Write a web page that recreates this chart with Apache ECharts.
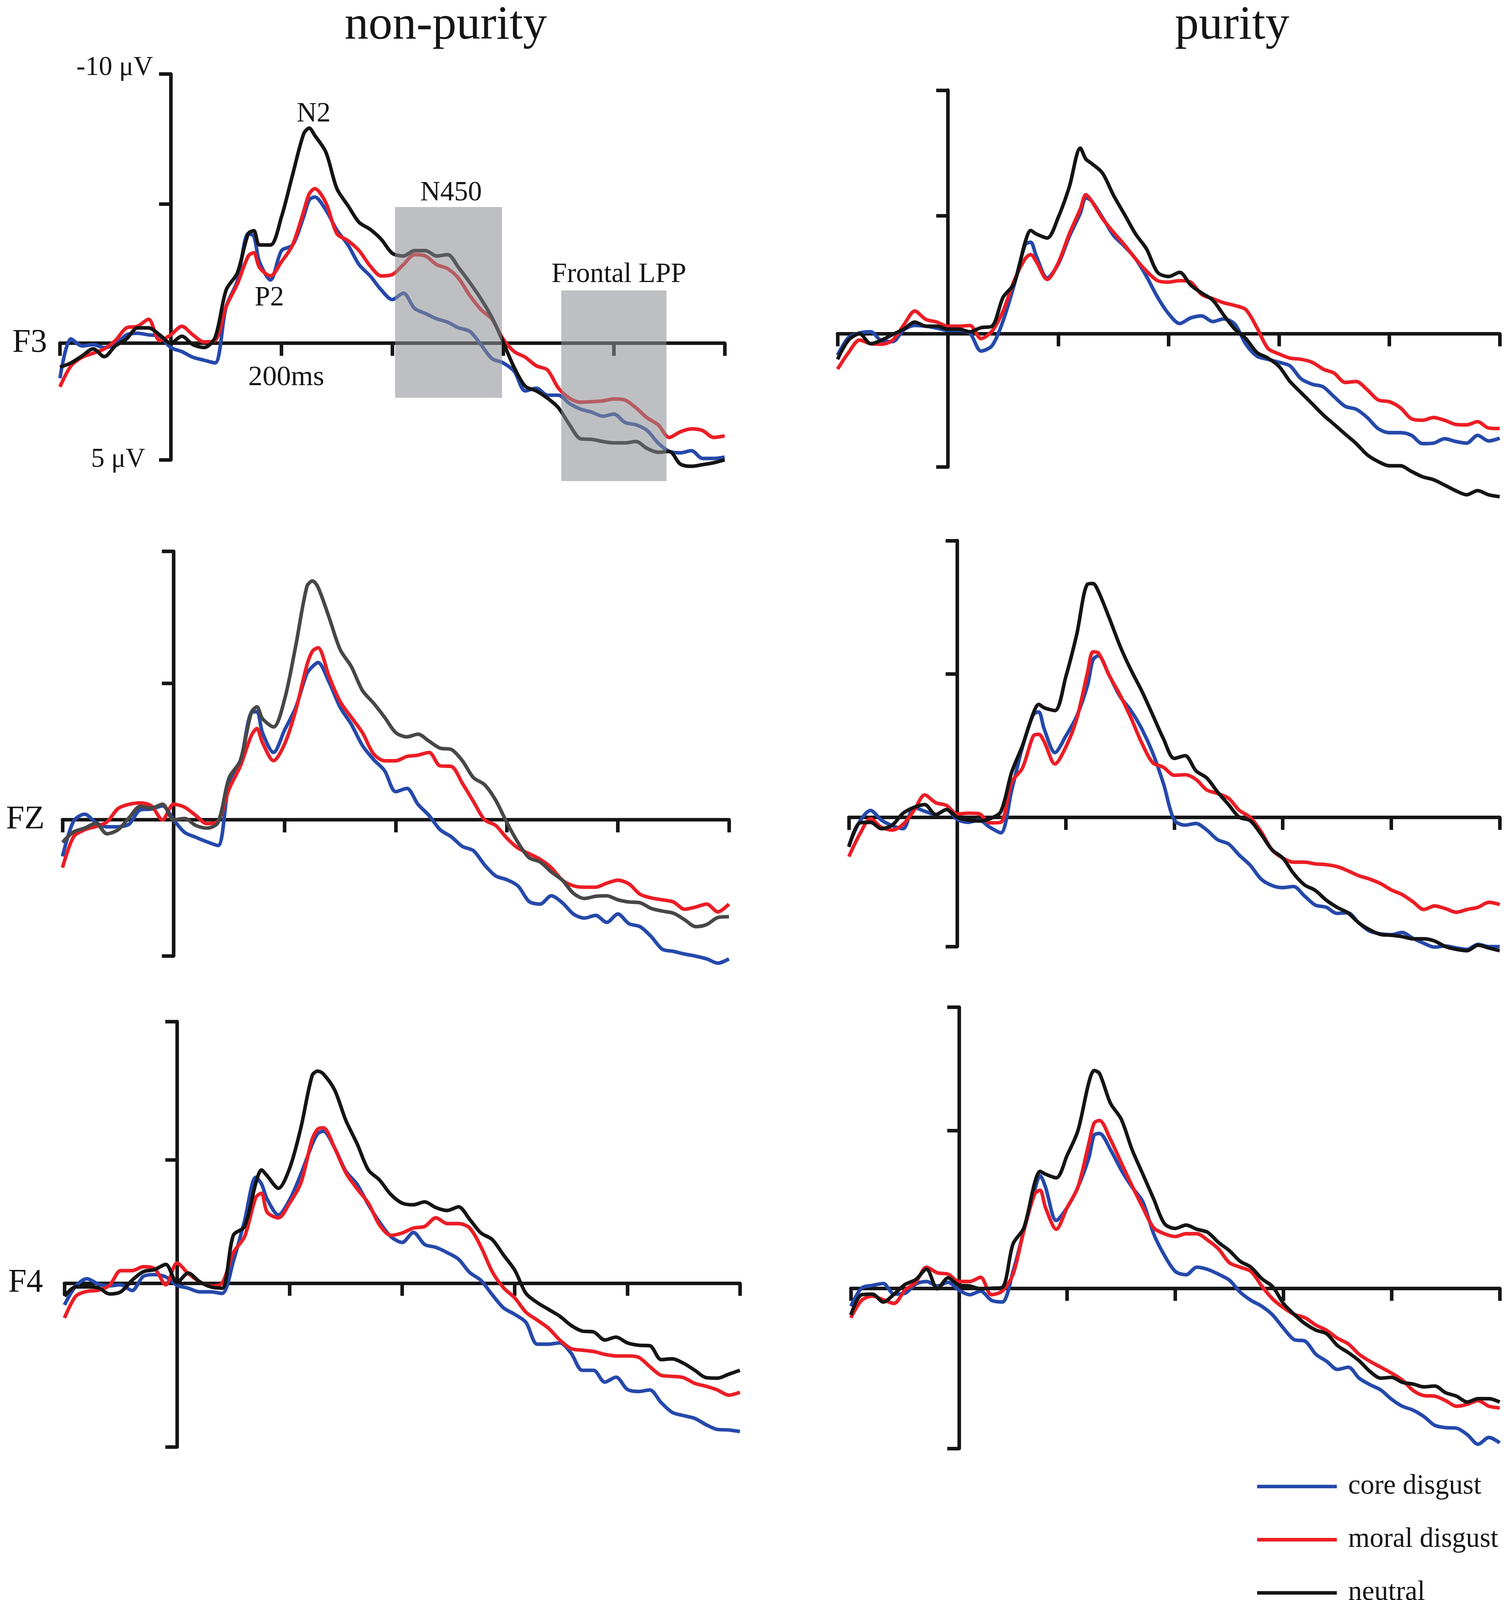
<!DOCTYPE html>
<html lang="en">
<head>
    <meta charset="UTF-8">
    <title>ERP waveforms: non-purity vs purity</title>
    <script src="https://cdn.jsdelivr.net/npm/echarts@6/dist/echarts.min.js"></script>
    <style>
        html, body { margin: 0; padding: 0; background: #fff; overflow: hidden; }
        #erp { width: 100vw; height: 100vh; }
    </style>
</head>
<body>
<div id="erp"></div>

<script>
// time points in ms (extra samples at 150 and 250 ms catch the peaks)
const times = [-200, -180, -160, -140, -120, -100, -80, -60, -40, -20,
    0, 20, 40, 60, 80, 100, 120, 140, 150, 160, 180,
    200, 220, 240, 250, 260, 280, 300, 320, 340, 360, 380,
    400, 420, 440, 460, 480, 500, 520, 540, 560, 580,
    600, 620, 640, 660, 680, 700, 720, 740, 760, 780,
    800, 820, 840, 860, 880, 900, 920, 940, 960, 980, 1000];

const conditions = ['core disgust', 'moral disgust', 'neutral'];

// F3, non-purity
const f3NonCore = [1.3, -0.16, 0.1, 0.05, 0.16, 0.05, -0.31, -0.37, -0.31, -0.26,
    0.16, 0.31, 0.52, 0.63, 0.73, -1.36, -2.3, -4.07, -3.97, -3.03, -2.35,
    -3.44, -3.65, -4.7, -5.32, -5.43, -4.95, -4.2, -3.65, -2.92, -2.5, -1.98,
    -1.62, -1.86, -1.3, -1.1, -0.91, -0.78, -0.57, -0.44, 0.05, 0.57,
    0.73, 1.04, 1.77, 1.67, 1.93, 1.93, 2.24, 2.45, 2.56, 2.71,
    2.63, 2.94, 3.03, 3.24, 3.71, 4.02, 4.07, 3.99, 4.28, 4.28, 4.23];
const f3NonMoral = [1.62, 0.84, 0.52, 0.37, 0.21, -0.1, -0.57, -0.63, -0.89, -0.1,
    -0.31, -0.63, -0.31, -0.05, -0.1, -1.36, -2.19, -3.24, -3.36, -2.82, -2.5,
    -3.03, -3.65, -4.9, -5.55, -5.74, -5.22, -4.07, -3.81, -3.44, -2.87, -2.5,
    -2.55, -2.92, -3.29, -3.24, -2.92, -2.77, -2.4, -1.77, -1.25, -0.89,
    -0.16, 0.31, 0.52, 0.84, 0.99, 1.67, 2.04, 2.19, 2.17, 2.14,
    2.07, 2.11, 2.4, 2.77, 3.03, 3.5, 3.29, 3.18, 3.24, 3.5, 3.44];
const f3NonNeutral = [0.89, 0.73, 0.47, 0.21, 0.5, 0.1, -0.16, -0.57, -0.57, -0.31,
    0, -0.26, 0.05, 0.16, -0.21, -1.98, -2.6, -4.07, -4.18, -3.65, -3.65,
    -4.7, -6.26, -7.78, -7.99, -7.72, -7.1, -5.74, -5.11, -4.49, -4.23, -3.86,
    -3.34, -3.24, -3.44, -3.44, -3.24, -3.29, -2.8, -2.25, -1.65, -0.95,
    -0.05, 0.9, 1.6, 1.77, 2.04, 2.4, 3.03, 3.55, 3.57, 3.65,
    3.7, 3.7, 3.65, 3.91, 4.05, 4.02, 4.49, 4.57, 4.51, 4.44, 4.33];

// F3, purity
const f3PurCore = [0.88, 0.15, -0.03, -0.08, 0.29, 0.32, -0.16, -0.34, -0.31, -0.23,
    -0.14, -0.14, -0.02, 0.71, 0.49, -0.53, -2.0, -3.65, -3.76, -3.2, -2.29,
    -2.86, -3.99, -4.95, -5.58, -5.46, -4.78, -4.04, -3.59, -3.08, -2.35, -1.5,
    -0.82, -0.42, -0.65, -0.73, -0.5, -0.61, -0.39, 0.43, 0.92, 1.05,
    1.17, 1.32, 1.85, 2.07, 2.18, 2.59, 2.98, 3.1, 3.44, 3.9,
    4.06, 4.06, 4.17, 4.51, 4.49, 4.31, 4.42, 4.49, 4.17, 4.4, 4.29];
const f3PurMoral = [1.45, 0.77, 0.26, 0.41, 0.43, 0.26, -0.36, -0.93, -0.59, -0.48,
    -0.31, -0.31, -0.34, 0.2, -0.11, -0.93, -2.18, -3.08, -3.25, -2.97, -2.23,
    -2.91, -4.1, -5.12, -5.71, -5.46, -4.73, -4.17, -3.65, -3.08, -2.57, -2.18,
    -2.12, -2.18, -2.12, -1.61, -1.44, -1.27, -1.16, -0.99, -0.25, 0.6,
    0.83, 1.0, 1.05, 1.17, 1.45, 1.62, 2.0, 1.96, 2.3, 2.72,
    2.79, 3.04, 3.49, 3.55, 3.44, 3.55, 3.72, 3.74, 3.61, 3.87, 3.89];
const f3PurNeutral = [1.05, 0.26, 0, 0.41, 0.26, 0.03, -0.19, -0.48, -0.31, -0.31,
    -0.19, -0.19, -0.08, -0.25, -0.31, -1.5, -2.06, -3.76, -4.24, -4.1, -3.93,
    -4.78, -6.03, -7.62, -7.17, -7.0, -6.6, -5.69, -4.9, -4.1, -3.48, -2.52,
    -2.35, -2.52, -2.0, -1.67, -1.38, -0.76, -0.19, 0.2, 0.77, 1.0,
    1.34, 1.96, 2.42, 2.87, 3.33, 3.72, 4.12, 4.51, 4.97, 5.25,
    5.42, 5.42, 5.65, 5.87, 5.99, 6.21, 6.44, 6.61, 6.44, 6.61, 6.69];

// FZ, non-purity
const fzNonCore = [1.36, 0.05, -0.21, 0.1, 0.26, 0.26, 0.16, -0.37, -0.4, -0.52,
    0, 0.47, 0.65, 0.82, 0.96, -1.36, -2.15, -4.0, -4.03, -3.25, -2.51,
    -3.35, -4.19, -5.45, -5.71, -5.86, -5.13, -4.19, -3.56, -2.77, -2.25, -1.83,
    -1.05, -1.17, -0.58, -0.16, 0.37, 0.63, 0.99, 1.15, 1.68, 2.09,
    2.23, 2.46, 3.04, 3.14, 2.83, 3.09, 3.51, 3.66, 3.56, 3.82,
    3.51, 3.87, 3.98, 4.35, 4.82, 4.9, 5.0, 5.08, 5.18, 5.34, 5.18];
const fzNonMoral = [1.78, 0.63, 0.37, 0.25, 0.08, -0.42, -0.58, -0.63, -0.52, 0,
    -0.58, -0.47, -0.16, 0.14, 0.05, -1.15, -1.99, -3.14, -3.4, -2.88, -2.2,
    -2.83, -4.08, -5.76, -6.28, -6.41, -5.34, -4.4, -3.82, -3.25, -2.46, -2.2,
    -2.2, -2.36, -2.41, -2.51, -2.01, -1.99, -1.36, -0.68, 0, 0.21,
    0.68, 1.05, 1.26, 1.47, 1.78, 2.25, 2.46, 2.51, 2.51, 2.36,
    2.25, 2.39, 2.77, 2.91, 2.98, 3.06, 3.33, 3.25, 3.14, 3.43, 3.14];
const fzNonNeutral = [0.84, 0.45, 0.31, 0.13, 0.52, 0.37, -0.08, -0.5, -0.44, -0.58,
    0, -0.05, 0.21, 0.31, 0.1, -1.57, -2.2, -4.0, -4.21, -3.77, -3.46,
    -4.5, -6.49, -8.69, -8.9, -8.67, -7.54, -6.34, -5.71, -4.82, -4.35, -3.82,
    -3.25, -3.09, -3.19, -2.93, -2.67, -2.62, -2.2, -1.57, -1.31, -0.73,
    0.1, 0.84, 1.41, 1.57, 1.94, 2.25, 2.74, 2.93, 2.85, 2.83,
    2.98, 3.06, 3.09, 3.3, 3.4, 3.48, 3.72, 3.98, 3.9, 3.64, 3.61];

// FZ, purity
const fzPurCore = [1.02, 0.15, -0.25, 0.1, 0.3, 0.41, -0.36, -0.22, -0.1, -0.28,
    0.08, 0.18, 0.1, 0.36, 0.56, -0.96, -2.54, -3.71, -3.81, -3.2, -2.34,
    -2.94, -3.65, -4.77, -5.69, -5.84, -5.13, -4.37, -3.86, -3.2, -2.34, -1.22,
    0.1, 0.28, 0.22, 0.46, 0.81, 0.96, 1.37, 1.73, 2.23, 2.46,
    2.54, 2.5, 2.84, 3.17, 3.25, 3.47, 3.45, 3.81, 4.11, 4.21,
    4.24, 4.16, 4.37, 4.55, 4.69, 4.65, 4.72, 4.77, 4.59, 4.67, 4.67];
const fzPurMoral = [1.42, 0.61, 0.05, 0.36, 0.46, 0.25, -0.25, -0.81, -0.53, -0.43,
    -0.12, -0.15, -0.13, 0.2, 0.18, -1.27, -1.78, -2.94, -3.0, -2.74, -1.93,
    -2.54, -3.55, -5.23, -5.98, -5.94, -5.13, -4.42, -3.6, -2.69, -1.98, -1.81,
    -1.52, -1.54, -1.37, -0.99, -0.86, -0.69, -0.25, 0, 0.51, 1.17,
    1.47, 1.62, 1.62, 1.68, 1.71, 1.78, 1.93, 2.11, 2.23, 2.39,
    2.62, 2.79, 3.05, 3.33, 3.2, 3.3, 3.43, 3.33, 3.25, 3.07, 3.15];
const fzPurNeutral = [1.07, 0.2, 0.18, 0.41, 0.28, -0.15, -0.36, -0.46, -0.1, -0.28,
    0, 0.1, 0.13, 0.05, -0.2, -1.62, -2.59, -3.76, -4.08, -3.96, -3.86,
    -5.08, -6.6, -8.43, -8.45, -8.17, -7.21, -6.19, -5.33, -4.57, -3.71, -2.84,
    -2.13, -2.23, -1.68, -1.42, -0.91, -0.46, 0, 0.12, 0.61, 1.17,
    1.47, 2.03, 2.44, 2.64, 2.99, 3.25, 3.45, 3.81, 4.06, 4.23,
    4.26, 4.31, 4.39, 4.39, 4.47, 4.67, 4.77, 4.82, 4.62, 4.72, 4.82];

// F4, non-purity
const f4NonCore = [0.83, 0.11, -0.17, 0.03, 0.1, 0.06, 0.28, -0.26, -0.33, -0.24,
    0.08, 0.19, 0.33, 0.33, 0.39, -0.83, -2.39, -4.05, -3.8, -3.22, -2.61,
    -3.19, -4.17, -5.3, -5.72, -5.81, -5.17, -4.28, -3.78, -3.0, -2.33, -1.78,
    -1.56, -1.94, -1.48, -1.37, -1.17, -0.92, -0.41, -0.11, 0.44, 0.94,
    1.19, 1.5, 2.33, 2.33, 2.28, 2.67, 3.33, 3.33, 3.78, 3.59,
    4.06, 4.14, 4.08, 4.56, 4.94, 5.06, 5.17, 5.41, 5.59, 5.61, 5.67];
const f4NonMoral = [1.33, 0.5, 0.31, 0.27, 0.08, -0.48, -0.48, -0.63, -0.56, 0.06,
    -0.77, -0.37, -0.06, 0.11, 0, -1.17, -1.78, -3.28, -3.44, -2.72, -2.5,
    -3.06, -3.83, -5.5, -5.89, -5.94, -5.17, -4.22, -3.61, -3.06, -2.22, -1.83,
    -1.92, -2.11, -2.17, -2.5, -2.28, -2.28, -2.11, -1.39, -0.44, 0.17,
    0.56, 1.11, 1.41, 1.72, 2.17, 2.5, 2.56, 2.61, 2.72, 2.78,
    2.78, 2.83, 3.19, 3.52, 3.56, 3.61, 3.83, 3.94, 4.08, 4.28, 4.17];
const f4NonNeutral = [0.5, 0.14, 0.14, 0.17, 0.41, 0.33, -0.11, -0.44, -0.52, -0.72,
    -0.03, -0.39, -0.06, 0.14, 0.19, -1.83, -2.17, -3.83, -4.33, -4.11, -3.63,
    -4.39, -5.94, -7.94, -8.11, -8.0, -7.39, -6.22, -5.33, -4.33, -3.94, -3.39,
    -3.06, -3.0, -3.11, -2.89, -2.78, -2.92, -2.44, -1.92, -1.67, -1.08,
    -0.5, 0.39, 0.74, 1.0, 1.26, 1.61, 1.83, 1.86, 2.17, 2.06,
    2.28, 2.37, 2.39, 2.92, 2.89, 3.06, 3.33, 3.61, 3.63, 3.48, 3.33];

// F4, purity
const f4PurCore = [0.64, -0.01, -0.1, -0.17, 0.21, 0.18, -0.15, -0.24, -0.08, -0.21,
    0.07, 0.23, 0.1, 0.43, 0.49, -0.6, -2.05, -3.49, -4.01, -3.6, -2.41,
    -2.87, -3.6, -4.63, -5.45, -5.51, -4.94, -4.21, -3.6, -3.08, -1.94, -1.17,
    -0.6, -0.48, -0.75, -0.67, -0.5, -0.29, 0.14, 0.43, 0.64, 0.95,
    1.42, 1.83, 1.88, 2.35, 2.6, 2.89, 2.81, 3.2, 3.43, 3.62,
    3.95, 4.2, 4.34, 4.57, 4.88, 4.96, 4.98, 5.21, 5.55, 5.31, 5.5];
const f4PurMoral = [1.05, 0.43, 0.28, 0.41, 0.54, 0.07, -0.21, -0.75, -0.55, -0.5,
    -0.24, -0.24, -0.39, 0.23, 0.1, -0.5, -2.05, -3.35, -3.49, -2.87, -2.1,
    -2.87, -3.6, -5.14, -5.88, -5.97, -5.3, -4.47, -3.65, -2.87, -2.15, -1.94,
    -1.84, -1.94, -1.94, -1.71, -1.4, -0.91, -0.75, -0.6, -0.08, 0.38,
    0.69, 0.93, 1.05, 1.31, 1.5, 1.78, 1.98, 2.35, 2.6, 2.81,
    3.02, 3.27, 3.64, 3.82, 3.84, 4.0, 4.2, 4.13, 4.0, 4.2, 4.26];
const f4PurNeutral = [0.95, 0.23, 0.21, 0.49, 0.21, -0.13, -0.31, -0.68, 0.02, -0.37,
    -0.11, -0.08, 0.02, 0, -0.03, -1.58, -2.15, -3.75, -4.16, -4.06, -3.93,
    -4.73, -5.61, -7.31, -7.75, -7.64, -6.59, -6.02, -4.94, -4.06, -3.18, -2.3,
    -2.13, -2.25, -2.1, -1.99, -1.63, -1.34, -0.96, -0.75, -0.34, -0.06,
    0.54, 0.93, 1.26, 1.49, 1.62, 2.04, 2.29, 2.58, 2.96, 3.2,
    3.17, 3.35, 3.41, 3.51, 3.48, 3.72, 3.84, 4.05, 3.93, 3.93, 4.05];

// analysis windows drawn on F3 non-purity (ms, µV)
const windowStart = [405, 705];
const windowEnd = [598, 895];
const windowTop = [-5.06, -1.96];
const windowBottom = [2.03, 5.12];

// component labels on F3 non-purity
const peakNames = ['N2', 'P2', 'N450', 'Frontal LPP'];
const peakTimes = [258, 178, 506, 809];
const peakValues = [-8.5, -1.67, -5.58, -2.54];

const serif = 'Liberation Serif';
const ink = '#151515';
const colors = {core: '#2549ab', moral: '#ec1d25', neutral: '#141414'};

// layout of the six panels on a 3850 x 4454 sheet, and where each scale bar ends
const panels = [
    {left: 153.5, top: 206, width: 1701.5, height: 1074, bottom: 4.33, mid: -5.17, name: 'F3', gap: 33,
        series: [f3NonCore, f3NonMoral, f3NonNeutral], neutral: colors.neutral},
    {left: 2144, top: 251, width: 1695, height: 1049, bottom: 5.47, mid: -4.84, name: '', gap: 0,
        series: [f3PurCore, f3PurMoral, f3PurNeutral], neutral: colors.neutral},
    {left: 160, top: 1535, width: 1706, height: 1126, bottom: 5.07, mid: -5.08, name: 'FZ', gap: 46,
        series: [fzNonCore, fzNonMoral, fzNonNeutral], neutral: '#474747'},
    {left: 2173, top: 1505, width: 1666, height: 1130, bottom: 4.67, mid: -5.18, name: '', gap: 0,
        series: [fzPurCore, fzPurMoral, fzPurNeutral], neutral: colors.neutral},
    {left: 165, top: 2844, width: 1729, height: 1184, bottom: 6.26, mid: -4.72, name: 'F4', gap: 55,
        series: [f4NonCore, f4NonMoral, f4NonNeutral], neutral: colors.neutral},
    {left: 2178, top: 2804, width: 1661, height: 1228, bottom: 5.70, mid: -5.61, name: '', gap: 0,
        series: [f4PurCore, f4PurMoral, f4PurNeutral], neutral: colors.neutral}
];

const el = document.getElementById('erp');
const chart = echarts.init(el);
// scale the sheet to whatever the window really is
const sx = chart.getWidth() / 3850;
const sy = chart.getHeight() / 4454;
const s = Math.sqrt(sx * sy);

const axisStroke = {color: ink, width: 9.5 * s};
let grid = [], xAxis = [], yAxis = [], series = [];

panels.forEach(function (p, i) {
    grid.push({
        left: p.left * sx, top: p.top * sy, width: p.width * sx, height: p.height * sy,
        containLabel: false, outerBoundsMode: 'none'
    });
    xAxis.push({
        gridIndex: i,
        type: 'value',
        min: -200,
        max: 1000,
        interval: 200,
        name: p.name,
        nameLocation: 'start',
        nameGap: p.gap * sx,
        nameTextStyle: {fontFamily: serif, fontSize: 88 * s, color: ink},
        axisLine: {onZero: true, lineStyle: axisStroke},
        axisTick: {length: 35 * sy, lineStyle: axisStroke},
        axisLabel: {show: false},
        splitLine: {show: false}
    });
    yAxis.push({
        gridIndex: i,
        type: 'value',
        inverse: true,
        min: -10,
        max: p.bottom,
        axisLine: {show: true, onZero: true, lineStyle: axisStroke},
        axisTick: {show: true, customValues: [-10, p.mid, p.bottom], length: 30 * sx, lineStyle: axisStroke},
        axisLabel: {show: false},
        splitLine: {show: false}
    });
    const lineColors = [colors.core, colors.moral, p.neutral];
    p.series.forEach(function (values, k) {
        series.push({
            name: conditions[k],
            type: 'line',
            xAxisIndex: i,
            yAxisIndex: i,
            data: times.map(function (t, j) {
                return [t, values[j]];
            }),
            symbol: 'none',
            smooth: 0.3,
            clip: false,
            color: lineColors[k],
            lineStyle: {width: 9.5 * s, color: lineColors[k]},
            z: 2 + k
        });
    });
});

const labelFont = {fontFamily: serif, color: ink};

// grey analysis windows laid over the F3 non-purity curves, plus its text
series.push({
    name: 'windows',
    type: 'custom',
    xAxisIndex: 0,
    yAxisIndex: 0,
    clip: false,
    z: 10,
    silent: true,
    encode: {x: [0, 1], y: [2, 3]},
    data: windowStart.map(function (v, k) {
        return [v, windowEnd[k], windowTop[k], windowBottom[k]];
    }),
    renderItem: function (params, api) {
        const a = api.coord([api.value(0), api.value(2)]);
        const b = api.coord([api.value(1), api.value(3)]);
        return {
            type: 'rect',
            shape: {x: a[0], y: a[1], width: b[0] - a[0], height: b[1] - a[1]},
            style: {fill: 'rgba(141,143,148,0.57)'}
        };
    },
    markPoint: {
        symbol: 'circle',
        symbolSize: 1,
        silent: true,
        itemStyle: {color: 'rgba(0,0,0,0)'},
        label: Object.assign({show: true, position: 'inside', formatter: '{b}', fontSize: 74 * s}, labelFont),
        data: peakNames.map(function (n, k) {
            return {name: n, coord: [peakTimes[k], peakValues[k]]};
        }).concat([
            {name: '-10 μV', coord: [0, -10],
                label: {position: 'left', distance: 45 * sx, offset: [0, -17 * sy], fontSize: 72 * s}},
            {name: '5 μV', coord: [0, panels[0].bottom],
                label: {position: 'left', distance: 65 * sx, fontSize: 72 * s}},
            {name: '200ms', coord: [200, 0],
                label: {position: 'bottom', distance: 56 * sy, offset: [12 * sx, 0], fontSize: 76 * s}}
        ])
    }
});

const titleStyle = {fontFamily: serif, fontSize: 128 * s, fontWeight: 'normal', color: ink};

const option = {
    backgroundColor: '#ffffff',
    animation: false,
    title: [
        {text: 'non-purity', left: 1136 * sx, top: 0, textAlign: 'center', textStyle: titleStyle},
        {text: 'purity', left: 3149 * sx, top: 0, textAlign: 'center', textStyle: titleStyle}
    ],
    legend: {
        data: conditions,
        orient: 'vertical',
        left: 3213 * sx,
        top: 4094 * sy,
        height: 600 * sy,
        icon: 'rect',
        itemWidth: 204 * sx,
        itemHeight: 9.5 * s,
        itemGap: (148 * sy) - (74 * s),
        selectedMode: false,
        textStyle: {fontFamily: serif, fontSize: 74 * s, color: ink, padding: [0, 0, 0, 24 * sx]}
    },
    grid: grid,
    xAxis: xAxis,
    yAxis: yAxis,
    series: series
};

chart.setOption(option);
</script>
</body>
</html>
